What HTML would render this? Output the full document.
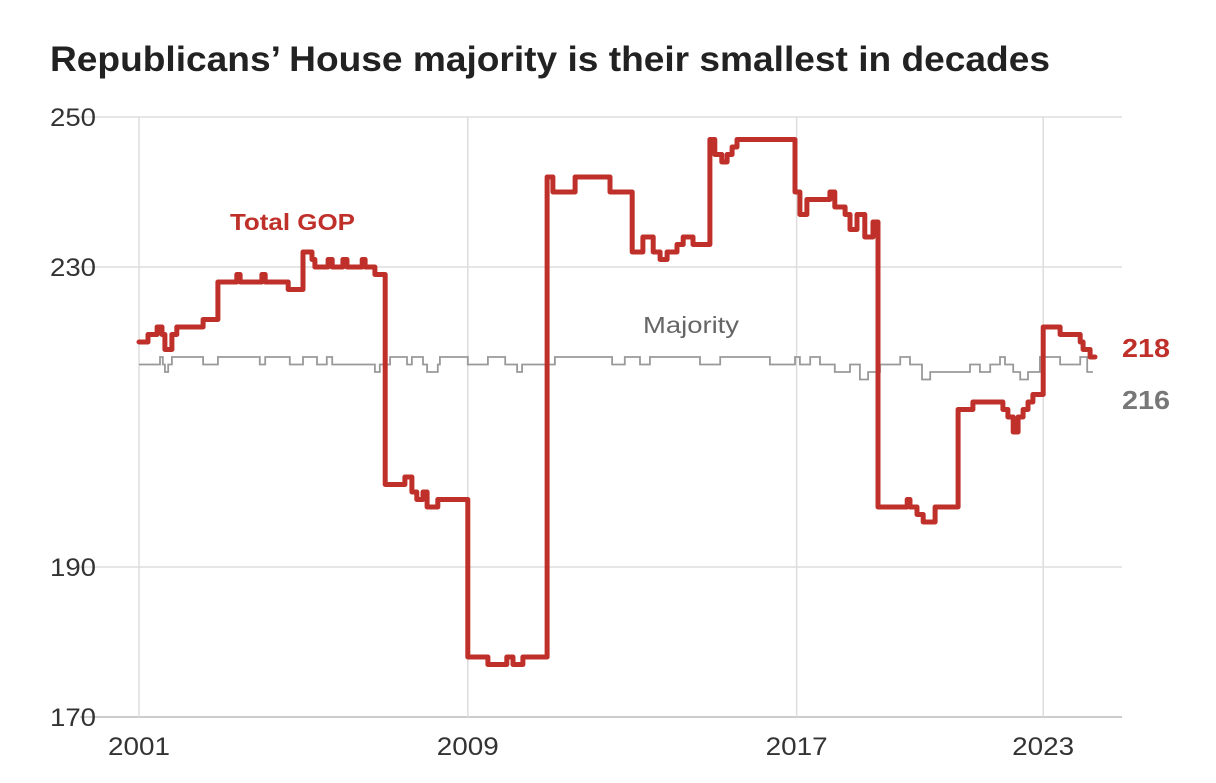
<!DOCTYPE html>
<html><head><meta charset="utf-8"><style>
body{margin:0;background:#fff;font-family:"Liberation Sans",sans-serif}
svg text{font-family:"Liberation Sans",sans-serif}
</style></head><body>
<svg id="chart" width="1216" height="778" xmlns="http://www.w3.org/2000/svg">
<text x="50" y="71" font-size="35" font-weight="bold" fill="#222" textLength="1000" lengthAdjust="spacingAndGlyphs">Republicans’ House majority is their smallest in decades</text>
<g id="grid"></g><g id="marks"></g>
</svg>
<script>
const yTicks=[250,230,190,170];
const xTicks=[2001,2009,2017,2023];
const gopYears=[2001.0,2001.22,2001.44,2001.56,2001.63,2001.80,2001.92,2002.56,2002.92,2003.38,2003.46,2003.99,2004.07,2004.63,2004.99,2005.21,2005.28,2005.60,2005.70,2005.96,2006.06,2006.43,2006.50,2006.74,2006.99,2007.47,2007.64,2007.76,2007.91,2008.01,2008.27,2009.00,2009.49,2009.95,2010.10,2010.34,2010.93,2011.07,2011.61,2012.46,2013.00,2013.26,2013.51,2013.68,2013.85,2014.09,2014.24,2014.48,2014.89,2015.01,2015.18,2015.31,2015.43,2015.55,2016.96,2017.08,2017.25,2017.81,2017.93,2018.18,2018.30,2018.47,2018.66,2018.86,2018.98,2019.69,2019.76,2019.93,2020.08,2020.37,2020.93,2021.29,2022.02,2022.14,2022.27,2022.39,2022.51,2022.63,2022.75,2023.00,2023.41,2023.90,2023.97,2024.14,2024.26];
const gopValues=[220,221,222,221,219,221,222,223,228,229,228,229,228,227,232,231,230,231,230,231,230,231,230,229,201,202,200,199,200,198,199,178,177,178,177,178,242,240,242,240,232,234,232,231,232,233,234,233,247,245,244,245,246,247,240,237,239,240,238,237,235,237,234,236,198,199,198,197,196,198,211,212,211,210,208,210,211,212,213,222,221,220,219,218,218];
const majYears=[2001.0,2001.51,2001.58,2001.63,2001.71,2001.80,2002.56,2002.92,2003.94,2004.07,2004.67,2004.99,2005.33,2005.57,2005.70,2006.74,2006.86,2007.11,2007.52,2007.64,2007.91,2008.01,2008.27,2008.32,2009.00,2009.49,2009.91,2010.20,2010.32,2011.12,2012.51,2012.82,2013.19,2013.43,2014.65,2015.14,2016.35,2016.96,2017.08,2017.33,2017.57,2017.93,2018.30,2018.54,2018.74,2019.03,2019.52,2019.76,2020.05,2020.25,2021.22,2021.46,2021.71,2021.95,2022.07,2022.27,2022.44,2022.63,2022.92,2023.41,2023.90,2024.07,2024.21];
const majValues=[217,218,217,216,217,218,217,218,217,218,217,218,217,218,217,216,217,218,217,218,217,216,217,218,217,218,217,216,217,218,217,218,217,218,217,218,217,218,217,218,217,216,217,215,216,217,218,217,215,216,217,216,217,218,217,216,215,216,218,217,218,216,216];
const xs=v=>139+(v-2001)*41.1;
const ys=v=>117+(250-v)*7.5;
const NS='http://www.w3.org/2000/svg';
function mk(tag,attrs,parent){const e=document.createElementNS(NS,tag);for(const k in attrs)e.setAttribute(k,attrs[k]);parent.appendChild(e);return e;}
const grid=document.getElementById('grid'),marks=document.getElementById('marks');
yTicks.forEach(t=>{
 const l=mk('line',{x1:80,x2:1122,y1:ys(t),y2:ys(t),stroke:t===170?'#bbb':'#ddd','stroke-width':1.5},grid);
 
 
 const tx=mk('text',{x:50,y:ys(t)+9,'font-size':25,fill:'#333',textLength:46,lengthAdjust:'spacingAndGlyphs'},grid);tx.textContent=t;
 
 
});
xTicks.forEach(t=>{
 const l=mk('line',{x1:xs(t),x2:xs(t),y1:117,y2:717,stroke:'#ddd','stroke-width':1.5},grid);
 
 
 const tx=mk('text',{x:xs(t)-31,y:755,'font-size':25,fill:'#333',textLength:62,lengthAdjust:'spacingAndGlyphs'},grid);tx.textContent=t;
 
 
});
function stepPath(X,V){let d='';for(let i=0;i<X.length;i++){const x=xs(X[i]).toFixed(1),y=ys(V[i]).toFixed(1);if(i===0)d='M'+x+','+y;else d+=' H'+x+' V'+y;}return d;}
const mp=mk('path',{d:stepPath(majYears,majValues),fill:'none',stroke:'#999','stroke-width':1.8},marks);


const gp=mk('path',{d:stepPath(gopYears,gopValues),fill:'none',stroke:'#c0302a','stroke-width':5,'stroke-linejoin':'round','stroke-linecap':'round'},marks);


const lab=[['Total GOP',230,230,'#c0302a','bold',23,'gop-series-label',125],['Majority',643,333,'#666','normal',23,'majority-series-label',96],[String(gopValues[gopValues.length-1]),1122,357,'#c0302a','bold',26,'gop-end-value',48],['216',1122,409,'#777','bold',26,'majority-end-value',48]];
lab.forEach(a=>{const t=mk('text',{x:a[1],y:a[2],fill:a[3],'font-weight':a[4],'font-size':a[5],textLength:a[7],lengthAdjust:'spacingAndGlyphs'},marks);t.textContent=a[0];
 
 });
</script>
</body></html>
